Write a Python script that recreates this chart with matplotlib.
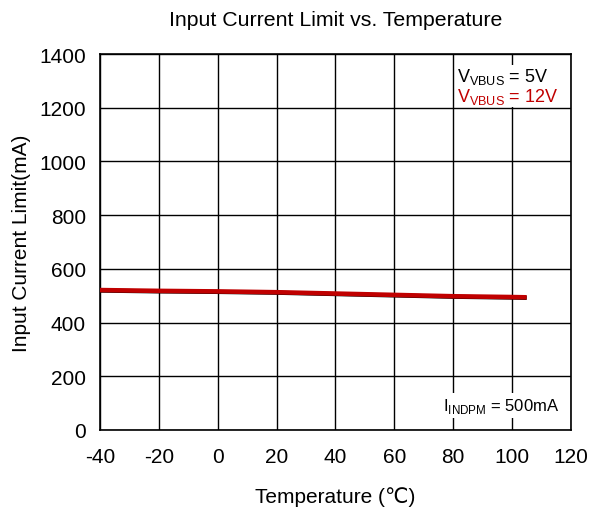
import matplotlib
matplotlib.use("Agg")
import matplotlib.pyplot as plt

plt.rcParams['font.family'] = ['Liberation Sans', 'DejaVu Sans']
plt.rcParams['axes.unicode_minus'] = False

temps = [-40, -20, 0, 20, 40, 60, 80, 100, 105]
i_5v = [519, 516, 514, 511, 506, 501, 496, 493, 492]
i_12v = [521, 518, 516, 513, 508, 503, 498, 495, 494]

xticks = [-40, -20, 0, 20, 40, 60, 80, 100, 120]
yticks = [0, 200, 400, 600, 800, 1000, 1200, 1400]

fig = plt.figure(figsize=(5.9, 5.1), dpi=100)
ax = fig.add_axes([0.1695, 0.155, 0.798, 0.737])

ax.plot(temps, i_5v, color='black', lw=3, solid_capstyle='butt', zorder=3)
ax.plot(temps, i_12v, color='#c00000', lw=3.3, solid_capstyle='butt', zorder=4)

ax.set_xlim(-40, 120)
ax.set_ylim(0, 1400)
ax.set_xticks(xticks)
ax.set_yticks(yticks)
ax.grid(True, color='black', lw=1)
ax.set_axisbelow(True)
for s in ax.spines.values():
    s.set_linewidth(1.2)
ax.tick_params(direction='in', length=0, labelsize=15)
ax.tick_params(axis='x', pad=12)
ax.tick_params(axis='y', pad=10)

ax.set_title('Input Current Limit vs. Temperature', fontsize=15.3, pad=21)
ax.set_xlabel('Temperature (\u2103)', fontsize=15, labelpad=15)
ax.set_ylabel('Input Current Limit(mA)', fontsize=15, labelpad=6)

ax.text(0.758, 0.968, r'V$_{\mathregular{VBUS}}$ = 5V', transform=ax.transAxes,
        ha='left', va='top', fontsize=13, color='black', zorder=5,
        bbox=dict(facecolor='white', edgecolor='none', pad=1))
ax.text(0.758, 0.915, r'V$_{\mathregular{VBUS}}$ = 12V', transform=ax.transAxes,
        ha='left', va='top', fontsize=13, color='#c00000', zorder=5,
        bbox=dict(facecolor='white', edgecolor='none', pad=1))
ax.text(0.728, 0.04, r'I$_{\mathregular{INDPM}}$ = 500mA', transform=ax.transAxes,
        ha='left', va='bottom', fontsize=12, color='black', zorder=5,
        bbox=dict(facecolor='white', edgecolor='none', pad=2))

fig.savefig('out.png', dpi=100)
